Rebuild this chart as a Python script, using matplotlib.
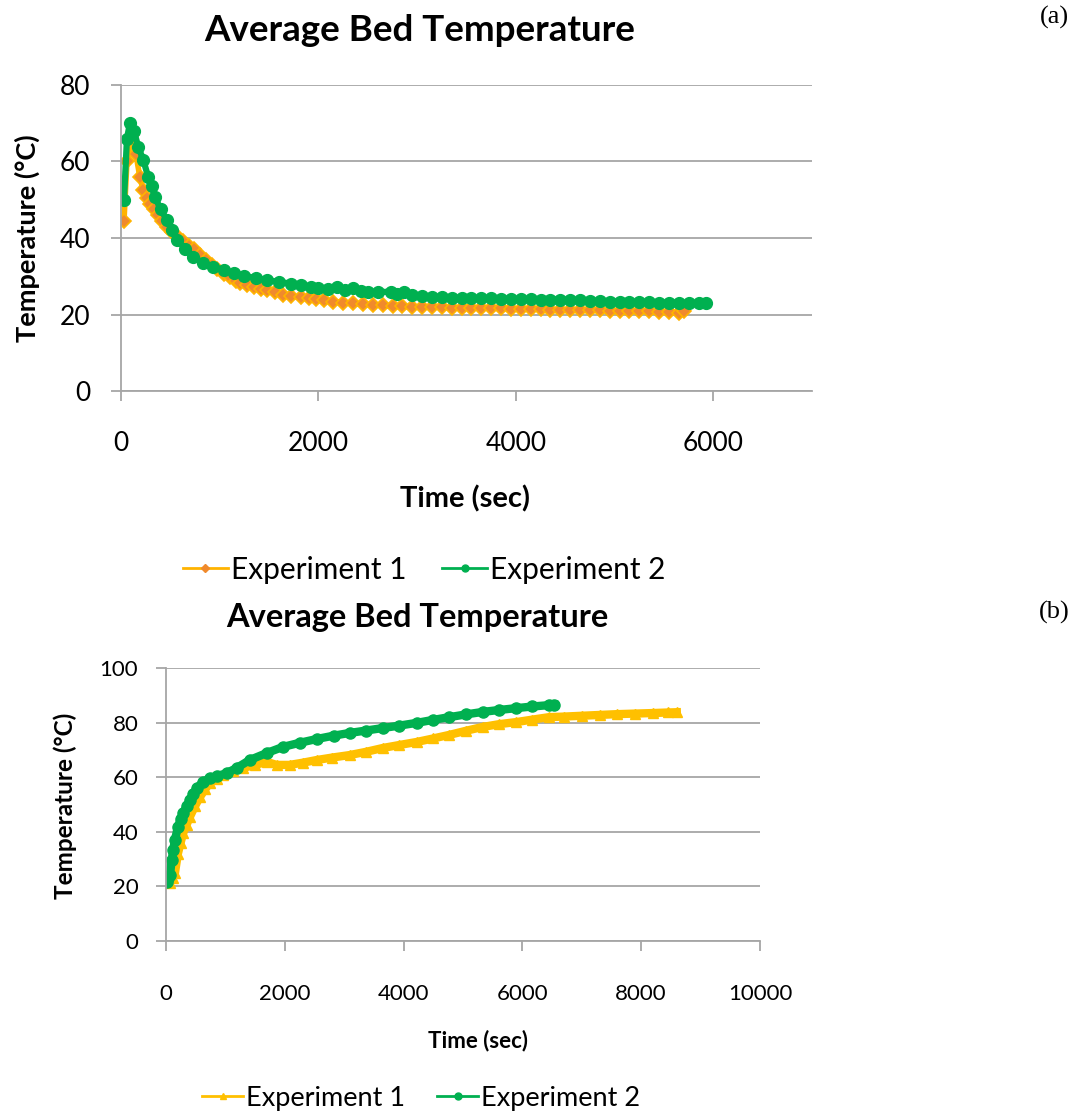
import matplotlib
matplotlib.use("Agg")
from matplotlib import pyplot as plt
from matplotlib.lines import Line2D

# (a) cooling run
a_time_1 = [30, 60, 110, 150, 190, 225, 260, 295, 330, 370,
            410, 465, 520, 575, 630, 690, 740, 800, 860, 920,
            975, 1040, 1100, 1160, 1210, 1280, 1350, 1420, 1480, 1560,
            1640, 1720, 1820, 1900, 1980, 2060, 2150, 2250, 2350, 2450,
            2550, 2650, 2750, 2850, 2950, 3050, 3150, 3250, 3350, 3450,
            3550, 3650, 3750, 3850, 3950, 4050, 4150, 4250, 4350, 4450,
            4550, 4650, 4750, 4850, 4950, 5050, 5150, 5250, 5350, 5450,
            5550, 5650, 5700]
a_temp_1 = [44.5, 60, 67, 62, 56, 52.5, 50.5, 49, 47.5, 46,
            44.5, 42.9, 41.5, 40.3, 39.3, 38, 37, 35.5, 34.2, 33,
            31.8, 30.7, 29.7, 28.8, 28.2, 27.6, 27.1, 26.7, 26.3, 25.8,
            25.2, 24.8, 24.5, 24.2, 24, 23.8, 23.4, 23.1, 22.9, 22.7,
            22.5, 22.4, 22.2, 22.1, 22.0, 22.0, 21.9, 21.9, 21.8, 21.8,
            21.7, 21.7, 21.6, 21.6, 21.5, 21.5, 21.4, 21.4, 21.3, 21.3,
            21.2, 21.2, 21.1, 21.1, 21.0, 21.0, 20.9, 20.9, 20.8, 20.7,
            20.6, 20.5, 21.0]

a_time_2 = [30, 60, 90, 130, 175, 225, 275, 310, 345, 400,
            465, 520, 570, 650, 730, 830, 935, 1040, 1140, 1250,
            1370, 1480, 1600, 1720, 1820, 1920, 2000, 2100, 2190, 2270,
            2350, 2430, 2500, 2600, 2730, 2800, 2870, 2950, 3050, 3150,
            3250, 3350, 3450, 3550, 3650, 3750, 3850, 3950, 4050, 4150,
            4250, 4350, 4450, 4550, 4650, 4750, 4850, 4950, 5050, 5150,
            5250, 5350, 5450, 5550, 5650, 5750, 5850, 5930]
a_temp_2 = [50, 66, 70, 68, 63.8, 60.4, 56, 53.5, 50.7, 47.5,
            44.7, 42, 39.5, 37.2, 35, 33.5, 32.4, 31.6, 30.8, 30.1,
            29.5, 29, 28.5, 28.1, 27.7, 27.3, 26.8, 26.6, 27.2, 26.5,
            27, 26.2, 25.9, 25.8, 26.0, 25.3, 25.8, 25.0, 24.8, 24.6,
            24.5, 24.4, 24.3, 24.3, 24.2, 24.2, 24.1, 24.1, 24.0, 24.0,
            23.9, 23.9, 23.9, 23.8, 23.7, 23.6, 23.5, 23.4, 23.3, 23.3,
            23.2, 23.2, 23.1, 23.1, 23.1, 23.0, 23.0, 23.0]

# (b) heating run
b_time_1 = [30, 67, 110, 150, 200, 245, 290, 345, 400, 485,
            570, 655, 740, 850, 960, 1130, 1300, 1500, 1700, 1860,
            2080, 2300, 2540, 2800, 3090, 3370, 3650, 3930, 4220, 4500,
            4770, 5050, 5330, 5600, 5900, 6170, 6450, 6700, 7000, 7300,
            7600, 7900, 8200, 8450, 8600]
b_temp_1 = [22, 21.2, 23, 24.9, 32, 36, 39.6, 42.5, 45.4, 49.3,
            52.7, 55.5, 57.9, 59.5, 60.8, 62.2, 63.4, 64.5, 65.6, 64.5,
            64.5, 65.3, 66.3, 67.2, 68.1, 69.3, 70.7, 71.8, 72.9, 74.2,
            75.5, 77, 78.4, 79.4, 80.2, 81.1, 82, 82.2, 82.5, 82.8,
            83.1, 83.3, 83.5, 83.7, 83.8]

b_time_2 = [10, 40, 67, 95, 120, 150, 200, 245, 290, 345,
            400, 460, 520, 620, 740, 860, 1020, 1190, 1410, 1700,
            1970, 2250, 2540, 2820, 3090, 3370, 3650, 3930, 4220, 4500,
            4770, 5050, 5330, 5600, 5900, 6170, 6450, 6540]
b_temp_2 = [21.7, 23, 24.2, 29.7, 33.3, 37, 41.8, 44.5, 46.9, 49.3,
            51.6, 54, 56, 58.2, 59.6, 60.4, 61.5, 63.4, 66.3, 68.9,
            71.1, 72.6, 74, 75.2, 76.2, 77.1, 78, 78.9, 79.9, 81,
            82, 83, 83.9, 84.6, 85.3, 85.9, 86.4, 86.5]

series_names = ["Experiment 1", "Experiment 2"]
title_text = "Average Bed Temperature"

GREEN = "#00B050"
ORANGE_LINE = "#FFB300"
ORANGE_MARK = "#F08A2C"
YELLOW = "#FFC000"
GRID = "#A6A6A6"
FONT = "Lato"

plt.rcParams["font.family"] = [FONT, "DejaVu Sans"]

fig = plt.figure(figsize=(10.74, 11.15), dpi=100)


def style_axes(ax, xlim, xticks, ylim, yticks, tick_size, xpad, ypad):
    ax.set_xlim(*xlim)
    ax.set_ylim(*ylim)
    ax.set_xticks(xticks)
    ax.set_yticks(yticks)
    ax.grid(axis="y", color=GRID, linewidth=1.3)
    ax.set_axisbelow(True)
    for side in ["top", "right"]:
        ax.spines[side].set_visible(False)
    for side in ["left", "bottom"]:
        ax.spines[side].set_color(GRID)
        ax.spines[side].set_linewidth(1.3)
    ax.tick_params(axis="both", direction="out", length=7, width=1.3,
                   color=GRID, labelsize=tick_size)
    ax.tick_params(axis="x", pad=xpad)
    ax.tick_params(axis="y", pad=ypad)


# ---- (a) ----
ax1 = fig.add_axes([0.1127, 0.6493, 0.6434, 0.2745])
ax1.plot(a_time_1, a_temp_1, color=ORANGE_LINE, linewidth=4, marker="D",
         markersize=7, markerfacecolor=ORANGE_MARK, markeredgecolor=ORANGE_LINE,
         markeredgewidth=1.2)
ax1.plot(a_time_2, a_temp_2, color=GREEN, linewidth=4.5, marker="o",
         markersize=8.5, markerfacecolor=GREEN, markeredgecolor=GREEN)
style_axes(ax1, (0, 7000), [0, 2000, 4000, 6000], (0, 80), [0, 20, 40, 60, 80],
           19, 22, 15)

fig.text(0.391, 0.973, title_text, ha="center", va="center",
         fontsize=26.5, fontweight="bold")
fig.text(0.025, 0.786, "Temperature (\u00b0C)", ha="center", va="center",
         rotation=90, fontsize=19.5, fontweight="bold")
fig.text(0.433, 0.553, "Time (sec)", ha="center", va="center",
         fontsize=21, fontweight="bold")

handles_a = [
    Line2D([], [], color=ORANGE_LINE, linewidth=2, marker="D", markersize=4,
           markerfacecolor=ORANGE_MARK, markeredgecolor=ORANGE_MARK),
    Line2D([], [], color=GREEN, linewidth=2, marker="o", markersize=5,
           markerfacecolor=GREEN, markeredgecolor=GREEN),
]
fig.legend(handles_a, series_names, loc="center", bbox_to_anchor=(0.395, 0.489),
           ncol=2, frameon=False, fontsize=21.5, handlelength=1.5,
           handletextpad=0.1, columnspacing=1.2)

fig.text(0.982, 0.984, "(a)", ha="center", va="center", fontsize=19,
         family="Liberation Serif")

# ---- (b) ----
ax2 = fig.add_axes([0.1546, 0.1561, 0.553, 0.2448])
ax2.plot(b_time_1, b_temp_1, color=YELLOW, linewidth=6, marker="^",
         markersize=7, markerfacecolor=YELLOW, markeredgecolor=YELLOW)
ax2.plot(b_time_2, b_temp_2, color=GREEN, linewidth=6, marker="o",
         markersize=8, markerfacecolor=GREEN, markeredgecolor=GREEN)
style_axes(ax2, (0, 10000), [0, 2000, 4000, 6000, 8000, 10000], (0, 100),
           [0, 20, 40, 60, 80, 100], 16, 24, 13)

fig.text(0.389, 0.446, title_text, ha="center", va="center",
         fontsize=23.5, fontweight="bold")
fig.text(0.0605, 0.277, "Temperature (\u00b0C)", ha="center", va="center",
         rotation=90, fontsize=17.5, fontweight="bold")
fig.text(0.445, 0.067, "Time (sec)", ha="center", va="center",
         fontsize=16, fontweight="bold")

handles_b = [
    Line2D([], [], color=YELLOW, linewidth=2, marker="^", markersize=5,
           markerfacecolor=YELLOW, markeredgecolor=YELLOW),
    Line2D([], [], color=GREEN, linewidth=2, marker="o", markersize=5,
           markerfacecolor=GREEN, markeredgecolor=GREEN),
]
fig.legend(handles_b, series_names, loc="center", bbox_to_anchor=(0.392, 0.015),
           ncol=2, frameon=False, fontsize=19.5, handlelength=1.5,
           handletextpad=0.1, columnspacing=1.2)

fig.text(0.982, 0.451, "(b)", ha="center", va="center", fontsize=19,
         family="Liberation Serif")

fig.savefig("out.png", dpi=100, facecolor="white")
